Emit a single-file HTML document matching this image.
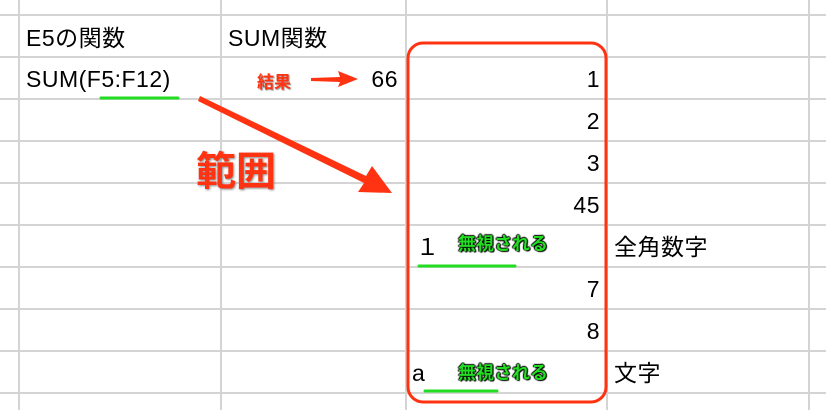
<!DOCTYPE html>
<html><head><meta charset="utf-8"><style>
body{margin:0;width:826px;height:410px;background:#fff;overflow:hidden;position:relative;font-family:"Liberation Sans","Noto Sans CJK JP",sans-serif}
.t{position:absolute;font-size:23px;color:#000;line-height:26px;letter-spacing:0.5px}
.r{text-align:right;width:60px}
.g{position:absolute;font-size:18px;font-weight:bold;color:#22dd22;text-shadow:1px 1px 1px #000,-1px 0 1px #000,0 -1px 1px #000,1px 0 1px #000}
</style></head><body>
<svg width="826" height="410" style="position:absolute;left:0;top:0">
<g stroke="#d4d4d4" stroke-width="2">
<line x1="0" y1="15" x2="826" y2="15"/><line x1="0" y1="57" x2="826" y2="57"/><line x1="0" y1="99" x2="826" y2="99"/><line x1="0" y1="141" x2="826" y2="141"/><line x1="0" y1="183" x2="826" y2="183"/><line x1="0" y1="225" x2="826" y2="225"/><line x1="0" y1="267" x2="826" y2="267"/><line x1="0" y1="309" x2="826" y2="309"/><line x1="0" y1="351" x2="826" y2="351"/><line x1="0" y1="393" x2="826" y2="393"/>
<line x1="19" y1="0" x2="19" y2="410"/><line x1="221" y1="0" x2="221" y2="410"/><line x1="406" y1="0" x2="406" y2="410"/><line x1="607" y1="0" x2="607" y2="410"/><line x1="809" y1="0" x2="809" y2="410"/>
</g>
<rect x="408" y="43" width="198" height="359" rx="15" fill="none" stroke="#ff3311" stroke-width="3"/>
<g stroke="#22dd22" stroke-width="3" stroke-linecap="round">
<line x1="101" y1="98" x2="178" y2="98"/><line x1="419" y1="266" x2="515" y2="266"/><line x1="425" y1="391" x2="497" y2="391"/>
</g>
<polygon points="200,96 366,176 372,166 392,193 358,192 364,183 198,101" fill="#ff3311"/>
<polygon points="311,78 340,77 338,71 358,79 338,87 340,82 311,81" fill="#ff3311"/>
</svg>
<div class="t" style="left:26px;top:25px">E5の関数</div>
<div class="t" style="left:228px;top:25px">SUM関数</div>
<div class="t" style="left:26px;top:66px">SUM(F5:F12)</div>
<div style="position:absolute;left:257px;top:68px;font-size:17px;font-weight:bold;color:#ff3311;text-shadow:1px 1px 1px #999">結果</div>
<div class="t r" style="left:338px;top:66px">66</div>
<div class="t r" style="left:540px;top:66px">1</div>
<div class="t r" style="left:540px;top:108px">2</div>
<div class="t r" style="left:540px;top:150px">3</div>
<div class="t r" style="left:540px;top:192px">45</div>
<div class="t" style="left:416px;top:234px">１</div>
<div class="g" style="left:458px;top:230px">無視される</div>
<div class="t" style="left:614px;top:234px">全角数字</div>
<div class="t r" style="left:540px;top:276px">7</div>
<div class="t r" style="left:540px;top:318px">8</div>
<div class="t" style="left:412px;top:360px">a</div>
<div class="g" style="left:458px;top:359px">無視される</div>
<div class="t" style="left:614px;top:360px">文字</div>
<div style="position:absolute;left:196px;top:150px;font-size:40px;font-weight:bold;color:#ff3311;text-shadow:1px 1px 2px #888;line-height:44px">範囲</div>
</body></html>
